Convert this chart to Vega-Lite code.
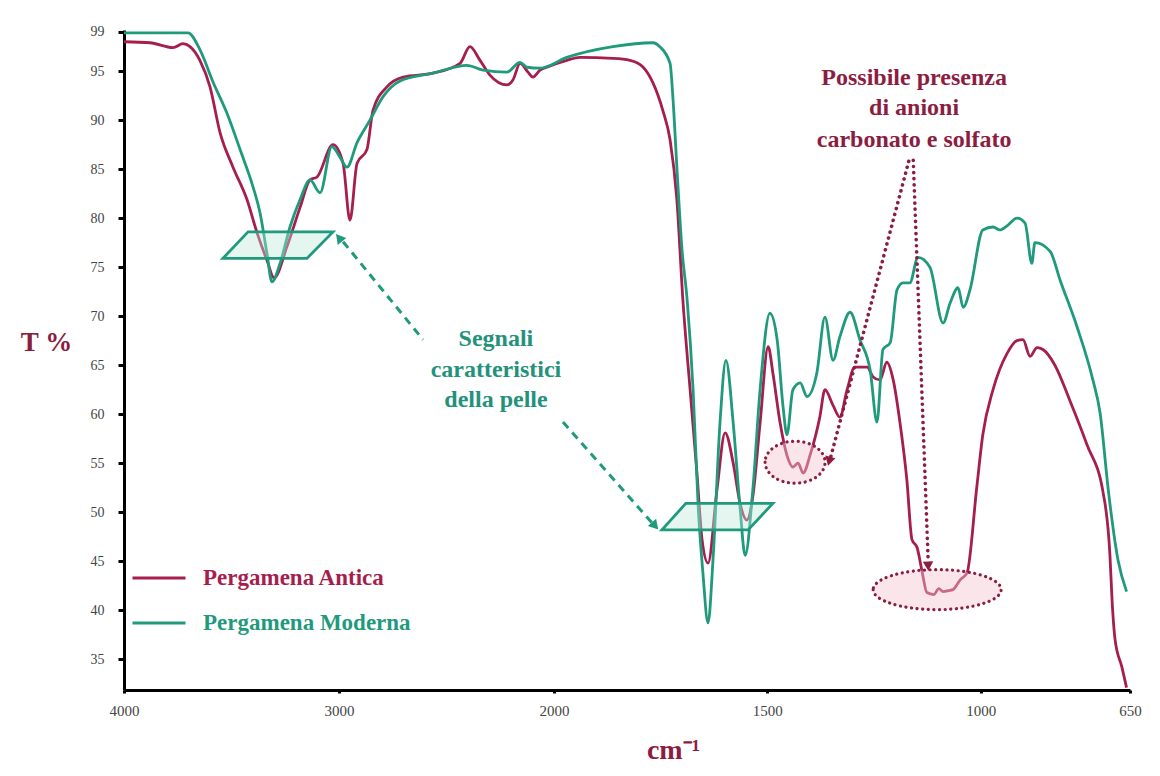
{
  "$schema": "https://vega.github.io/schema/vega-lite/v6.json",
  "width": 1006,
  "height": 660,
  "autosize": {"type": "none"},
  "padding": {"left": 124, "top": 30, "right": 30, "bottom": 86},
  "background": "white",
  "config": {"view": {"stroke": null}, "font": "Liberation Serif"},
  "datasets": {
    "spectra": [
      {"s": "Pergamena Antica", "wn": 4000, "T": 98.0},
      {"s": "Pergamena Antica", "wn": 3879, "T": 97.9},
      {"s": "Pergamena Antica", "wn": 3772, "T": 97.4},
      {"s": "Pergamena Antica", "wn": 3726, "T": 97.8},
      {"s": "Pergamena Antica", "wn": 3693, "T": 97.5},
      {"s": "Pergamena Antica", "wn": 3647, "T": 96.1},
      {"s": "Pergamena Antica", "wn": 3600, "T": 93.4},
      {"s": "Pergamena Antica", "wn": 3553, "T": 88.7},
      {"s": "Pergamena Antica", "wn": 3493, "T": 85.2},
      {"s": "Pergamena Antica", "wn": 3428, "T": 81.9},
      {"s": "Pergamena Antica", "wn": 3381, "T": 78.5},
      {"s": "Pergamena Antica", "wn": 3335, "T": 75.7},
      {"s": "Pergamena Antica", "wn": 3302, "T": 73.9},
      {"s": "Pergamena Antica", "wn": 3242, "T": 77.1},
      {"s": "Pergamena Antica", "wn": 3181, "T": 81.1},
      {"s": "Pergamena Antica", "wn": 3135, "T": 83.9},
      {"s": "Pergamena Antica", "wn": 3102, "T": 84.2},
      {"s": "Pergamena Antica", "wn": 3028, "T": 87.5},
      {"s": "Pergamena Antica", "wn": 2981, "T": 85.6},
      {"s": "Pergamena Antica", "wn": 2949, "T": 79.8},
      {"s": "Pergamena Antica", "wn": 2916, "T": 85.6},
      {"s": "Pergamena Antica", "wn": 2870, "T": 87.0},
      {"s": "Pergamena Antica", "wn": 2842, "T": 91.0},
      {"s": "Pergamena Antica", "wn": 2777, "T": 93.4},
      {"s": "Pergamena Antica", "wn": 2702, "T": 94.4},
      {"s": "Pergamena Antica", "wn": 2563, "T": 94.8},
      {"s": "Pergamena Antica", "wn": 2437, "T": 95.8},
      {"s": "Pergamena Antica", "wn": 2391, "T": 97.5},
      {"s": "Pergamena Antica", "wn": 2344, "T": 96.1},
      {"s": "Pergamena Antica", "wn": 2298, "T": 94.6},
      {"s": "Pergamena Antica", "wn": 2219, "T": 93.6},
      {"s": "Pergamena Antica", "wn": 2191, "T": 94.1},
      {"s": "Pergamena Antica", "wn": 2158, "T": 95.8},
      {"s": "Pergamena Antica", "wn": 2121, "T": 94.9},
      {"s": "Pergamena Antica", "wn": 2098, "T": 94.4},
      {"s": "Pergamena Antica", "wn": 2065, "T": 95.1},
      {"s": "Pergamena Antica", "wn": 2033, "T": 95.4},
      {"s": "Pergamena Antica", "wn": 1970, "T": 96.1},
      {"s": "Pergamena Antica", "wn": 1939, "T": 96.4},
      {"s": "Pergamena Antica", "wn": 1862, "T": 96.3},
      {"s": "Pergamena Antica", "wn": 1822, "T": 96.1},
      {"s": "Pergamena Antica", "wn": 1791, "T": 95.4},
      {"s": "Pergamena Antica", "wn": 1768, "T": 93.8},
      {"s": "Pergamena Antica", "wn": 1745, "T": 91.0},
      {"s": "Pergamena Antica", "wn": 1728, "T": 88.0},
      {"s": "Pergamena Antica", "wn": 1712, "T": 81.9},
      {"s": "Pergamena Antica", "wn": 1698, "T": 71.7},
      {"s": "Pergamena Antica", "wn": 1681, "T": 62.5},
      {"s": "Pergamena Antica", "wn": 1665, "T": 54.0},
      {"s": "Pergamena Antica", "wn": 1653, "T": 47.2},
      {"s": "Pergamena Antica", "wn": 1639, "T": 44.8},
      {"s": "Pergamena Antica", "wn": 1618, "T": 52.3},
      {"s": "Pergamena Antica", "wn": 1599, "T": 58.1},
      {"s": "Pergamena Antica", "wn": 1580, "T": 55.0},
      {"s": "Pergamena Antica", "wn": 1564, "T": 50.9},
      {"s": "Pergamena Antica", "wn": 1548, "T": 49.2},
      {"s": "Pergamena Antica", "wn": 1534, "T": 51.6},
      {"s": "Pergamena Antica", "wn": 1517, "T": 59.1},
      {"s": "Pergamena Antica", "wn": 1498, "T": 66.9},
      {"s": "Pergamena Antica", "wn": 1487, "T": 64.2},
      {"s": "Pergamena Antica", "wn": 1470, "T": 59.1},
      {"s": "Pergamena Antica", "wn": 1454, "T": 55.8},
      {"s": "Pergamena Antica", "wn": 1440, "T": 54.6},
      {"s": "Pergamena Antica", "wn": 1428, "T": 55.0},
      {"s": "Pergamena Antica", "wn": 1416, "T": 54.0},
      {"s": "Pergamena Antica", "wn": 1400, "T": 55.8},
      {"s": "Pergamena Antica", "wn": 1377, "T": 59.7},
      {"s": "Pergamena Antica", "wn": 1365, "T": 62.5},
      {"s": "Pergamena Antica", "wn": 1346, "T": 60.9},
      {"s": "Pergamena Antica", "wn": 1330, "T": 59.7},
      {"s": "Pergamena Antica", "wn": 1313, "T": 62.5},
      {"s": "Pergamena Antica", "wn": 1295, "T": 64.8},
      {"s": "Pergamena Antica", "wn": 1266, "T": 64.8},
      {"s": "Pergamena Antica", "wn": 1252, "T": 63.8},
      {"s": "Pergamena Antica", "wn": 1236, "T": 63.5},
      {"s": "Pergamena Antica", "wn": 1220, "T": 65.3},
      {"s": "Pergamena Antica", "wn": 1205, "T": 63.5},
      {"s": "Pergamena Antica", "wn": 1189, "T": 59.1},
      {"s": "Pergamena Antica", "wn": 1173, "T": 53.3},
      {"s": "Pergamena Antica", "wn": 1161, "T": 47.2},
      {"s": "Pergamena Antica", "wn": 1149, "T": 46.4},
      {"s": "Pergamena Antica", "wn": 1138, "T": 44.1},
      {"s": "Pergamena Antica", "wn": 1126, "T": 41.8},
      {"s": "Pergamena Antica", "wn": 1110, "T": 41.6},
      {"s": "Pergamena Antica", "wn": 1098, "T": 42.2},
      {"s": "Pergamena Antica", "wn": 1088, "T": 41.9},
      {"s": "Pergamena Antica", "wn": 1075, "T": 42.0},
      {"s": "Pergamena Antica", "wn": 1065, "T": 42.1},
      {"s": "Pergamena Antica", "wn": 1048, "T": 43.1},
      {"s": "Pergamena Antica", "wn": 1032, "T": 43.8},
      {"s": "Pergamena Antica", "wn": 1009, "T": 52.6},
      {"s": "Pergamena Antica", "wn": 995, "T": 57.9},
      {"s": "Pergamena Antica", "wn": 971, "T": 62.5},
      {"s": "Pergamena Antica", "wn": 938, "T": 66.2},
      {"s": "Pergamena Antica", "wn": 915, "T": 67.5},
      {"s": "Pergamena Antica", "wn": 901, "T": 67.6},
      {"s": "Pergamena Antica", "wn": 884, "T": 65.9},
      {"s": "Pergamena Antica", "wn": 868, "T": 66.8},
      {"s": "Pergamena Antica", "wn": 854, "T": 66.6},
      {"s": "Pergamena Antica", "wn": 826, "T": 65.0},
      {"s": "Pergamena Antica", "wn": 791, "T": 61.4},
      {"s": "Pergamena Antica", "wn": 751, "T": 56.9},
      {"s": "Pergamena Antica", "wn": 713, "T": 52.0},
      {"s": "Pergamena Antica", "wn": 697, "T": 45.6},
      {"s": "Pergamena Antica", "wn": 692, "T": 41.0},
      {"s": "Pergamena Antica", "wn": 685, "T": 37.0},
      {"s": "Pergamena Antica", "wn": 669, "T": 34.2},
      {"s": "Pergamena Antica", "wn": 658, "T": 32.1},
      {"s": "Pergamena Moderna", "wn": 4000, "T": 98.9},
      {"s": "Pergamena Moderna", "wn": 3702, "T": 98.9},
      {"s": "Pergamena Moderna", "wn": 3647, "T": 97.2},
      {"s": "Pergamena Moderna", "wn": 3586, "T": 93.9},
      {"s": "Pergamena Moderna", "wn": 3521, "T": 90.7},
      {"s": "Pergamena Moderna", "wn": 3460, "T": 87.0},
      {"s": "Pergamena Moderna", "wn": 3400, "T": 83.2},
      {"s": "Pergamena Moderna", "wn": 3367, "T": 80.5},
      {"s": "Pergamena Moderna", "wn": 3335, "T": 76.4},
      {"s": "Pergamena Moderna", "wn": 3312, "T": 73.5},
      {"s": "Pergamena Moderna", "wn": 3274, "T": 75.4},
      {"s": "Pergamena Moderna", "wn": 3228, "T": 79.1},
      {"s": "Pergamena Moderna", "wn": 3181, "T": 81.9},
      {"s": "Pergamena Moderna", "wn": 3135, "T": 83.9},
      {"s": "Pergamena Moderna", "wn": 3088, "T": 82.6},
      {"s": "Pergamena Moderna", "wn": 3033, "T": 87.3},
      {"s": "Pergamena Moderna", "wn": 2995, "T": 86.2},
      {"s": "Pergamena Moderna", "wn": 2963, "T": 85.2},
      {"s": "Pergamena Moderna", "wn": 2916, "T": 87.7},
      {"s": "Pergamena Moderna", "wn": 2856, "T": 90.0},
      {"s": "Pergamena Moderna", "wn": 2795, "T": 92.4},
      {"s": "Pergamena Moderna", "wn": 2716, "T": 94.0},
      {"s": "Pergamena Moderna", "wn": 2563, "T": 94.8},
      {"s": "Pergamena Moderna", "wn": 2405, "T": 95.6},
      {"s": "Pergamena Moderna", "wn": 2330, "T": 95.1},
      {"s": "Pergamena Moderna", "wn": 2219, "T": 94.9},
      {"s": "Pergamena Moderna", "wn": 2158, "T": 95.9},
      {"s": "Pergamena Moderna", "wn": 2126, "T": 95.4},
      {"s": "Pergamena Moderna", "wn": 2065, "T": 95.3},
      {"s": "Pergamena Moderna", "wn": 1970, "T": 96.4},
      {"s": "Pergamena Moderna", "wn": 1862, "T": 97.5},
      {"s": "Pergamena Moderna", "wn": 1768, "T": 97.9},
      {"s": "Pergamena Moderna", "wn": 1752, "T": 97.5},
      {"s": "Pergamena Moderna", "wn": 1728, "T": 95.8},
      {"s": "Pergamena Moderna", "wn": 1721, "T": 92.1},
      {"s": "Pergamena Moderna", "wn": 1712, "T": 85.2},
      {"s": "Pergamena Moderna", "wn": 1700, "T": 76.8},
      {"s": "Pergamena Moderna", "wn": 1688, "T": 71.7},
      {"s": "Pergamena Moderna", "wn": 1674, "T": 62.5},
      {"s": "Pergamena Moderna", "wn": 1662, "T": 50.5},
      {"s": "Pergamena Moderna", "wn": 1651, "T": 43.8},
      {"s": "Pergamena Moderna", "wn": 1639, "T": 38.7},
      {"s": "Pergamena Moderna", "wn": 1627, "T": 45.4},
      {"s": "Pergamena Moderna", "wn": 1611, "T": 59.1},
      {"s": "Pergamena Moderna", "wn": 1597, "T": 65.5},
      {"s": "Pergamena Moderna", "wn": 1580, "T": 59.1},
      {"s": "Pergamena Moderna", "wn": 1564, "T": 50.5},
      {"s": "Pergamena Moderna", "wn": 1552, "T": 45.6},
      {"s": "Pergamena Moderna", "wn": 1534, "T": 52.3},
      {"s": "Pergamena Moderna", "wn": 1517, "T": 62.5},
      {"s": "Pergamena Moderna", "wn": 1494, "T": 70.3},
      {"s": "Pergamena Moderna", "wn": 1477, "T": 67.6},
      {"s": "Pergamena Moderna", "wn": 1463, "T": 60.7},
      {"s": "Pergamena Moderna", "wn": 1454, "T": 57.9},
      {"s": "Pergamena Moderna", "wn": 1440, "T": 62.5},
      {"s": "Pergamena Moderna", "wn": 1423, "T": 63.2},
      {"s": "Pergamena Moderna", "wn": 1407, "T": 61.8},
      {"s": "Pergamena Moderna", "wn": 1384, "T": 64.2},
      {"s": "Pergamena Moderna", "wn": 1365, "T": 69.9},
      {"s": "Pergamena Moderna", "wn": 1346, "T": 65.5},
      {"s": "Pergamena Moderna", "wn": 1330, "T": 67.9},
      {"s": "Pergamena Moderna", "wn": 1306, "T": 70.4},
      {"s": "Pergamena Moderna", "wn": 1283, "T": 67.6},
      {"s": "Pergamena Moderna", "wn": 1259, "T": 64.5},
      {"s": "Pergamena Moderna", "wn": 1243, "T": 59.2},
      {"s": "Pergamena Moderna", "wn": 1229, "T": 66.6},
      {"s": "Pergamena Moderna", "wn": 1212, "T": 67.3},
      {"s": "Pergamena Moderna", "wn": 1196, "T": 72.7},
      {"s": "Pergamena Moderna", "wn": 1182, "T": 73.4},
      {"s": "Pergamena Moderna", "wn": 1166, "T": 73.4},
      {"s": "Pergamena Moderna", "wn": 1147, "T": 76.0},
      {"s": "Pergamena Moderna", "wn": 1119, "T": 75.0},
      {"s": "Pergamena Moderna", "wn": 1088, "T": 69.3},
      {"s": "Pergamena Moderna", "wn": 1072, "T": 71.3},
      {"s": "Pergamena Moderna", "wn": 1053, "T": 72.9},
      {"s": "Pergamena Moderna", "wn": 1041, "T": 70.9},
      {"s": "Pergamena Moderna", "wn": 1025, "T": 72.7},
      {"s": "Pergamena Moderna", "wn": 995, "T": 78.8},
      {"s": "Pergamena Moderna", "wn": 971, "T": 79.1},
      {"s": "Pergamena Moderna", "wn": 955, "T": 78.8},
      {"s": "Pergamena Moderna", "wn": 936, "T": 79.3},
      {"s": "Pergamena Moderna", "wn": 915, "T": 80.0},
      {"s": "Pergamena Moderna", "wn": 896, "T": 79.5},
      {"s": "Pergamena Moderna", "wn": 880, "T": 75.4},
      {"s": "Pergamena Moderna", "wn": 873, "T": 77.5},
      {"s": "Pergamena Moderna", "wn": 837, "T": 76.6},
      {"s": "Pergamena Moderna", "wn": 814, "T": 73.7},
      {"s": "Pergamena Moderna", "wn": 774, "T": 68.9},
      {"s": "Pergamena Moderna", "wn": 737, "T": 63.5},
      {"s": "Pergamena Moderna", "wn": 720, "T": 60.1},
      {"s": "Pergamena Moderna", "wn": 701, "T": 52.3},
      {"s": "Pergamena Moderna", "wn": 678, "T": 45.1},
      {"s": "Pergamena Moderna", "wn": 658, "T": 41.9}
    ],
    "shapes": [
      {"id": "p1", "T": 75.9, "wn": 3540, "wn2": 3149},
      {"id": "p1", "T": 78.6, "wn": 3423, "wn2": 3028},
      {"id": "p2", "T": 48.2, "wn": 1747, "wn2": 1545},
      {"id": "p2", "T": 50.9, "wn": 1691, "wn2": 1487}
    ],
    "ellipses": [
      {"id": "small", "wn": 1435, "T": 55.1},
      {"id": "big", "wn": 1102, "T": 42.1}
    ],
    "arrows": [
      {"id": "A", "wn": 2609, "T": 67.6},
      {"id": "A", "wn": 2981, "T": 77.6},
      {"id": "B", "wn": 1979, "T": 59.2},
      {"id": "B", "wn": 1770, "T": 48.9},
      {"id": "C", "wn": 1168, "T": 85.9},
      {"id": "C", "wn": 1351, "T": 55.7},
      {"id": "D", "wn": 1158, "T": 85.9},
      {"id": "D", "wn": 1123, "T": 45.0}
    ],
    "heads": [
      {"id": "A", "wn": 3000, "T": 78.0},
      {"id": "B", "wn": 1763, "T": 48.6},
      {"id": "C", "wn": 1355, "T": 55.2},
      {"id": "D", "wn": 1123, "T": 44.5}
    ],
    "labels": [
      {"g": "red", "t": "Possibile presenza", "wn": 1156, "T": 94.3},
      {"g": "red", "t": "di anioni", "wn": 1156, "T": 91.2},
      {"g": "red", "t": "carbonato e solfato", "wn": 1156, "T": 88.0},
      {"g": "teal", "t": "Segnali", "wn": 2270, "T": 67.7},
      {"g": "teal", "t": "caratteristici", "wn": 2270, "T": 64.5},
      {"g": "teal", "t": "della pelle", "wn": 2270, "T": 61.4}
    ]
  },
  "encoding": {
    "x": {
      "field": "wn",
      "type": "quantitative",
      "scale": {"domain": [4000, 2000, 650], "range": [0, 430, 1006], "nice": false, "zero": false},
      "axis": {
        "values": [4000, 3000, 2000, 1500, 1000, 650],
        "format": "d",
        "grid": false,
        "domainColor": "black",
        "domainWidth": 3,
        "tickColor": "black",
        "tickWidth": 3,
        "tickSize": 3,
        "labelFont": "Liberation Serif",
        "labelFontSize": 15,
        "labelColor": "#444444",
        "labelPadding": 10,
        "labelFlush": false,
        "labelOverlap": false,
        "title": "cm⁻¹",
        "titleFont": "Liberation Serif",
        "titleFontSize": 28,
        "titleFontWeight": "bold",
        "titleColor": "#8c1d40",
        "titleX": 549,
        "titleY": 68,
        "titleAlign": "center",
        "titleBaseline": "alphabetic"
      }
    },
    "y": {
      "field": "T",
      "type": "quantitative",
      "scale": {"domain": [31.86, 99.2], "nice": false, "zero": false},
      "axis": {
        "values": [35, 40, 45, 50, 55, 60, 65, 70, 75, 80, 85, 90, 95, 99],
        "grid": false,
        "domainColor": "black",
        "domainWidth": 3,
        "tickColor": "black",
        "tickWidth": 3,
        "tickSize": 6,
        "labelFont": "Liberation Serif",
        "labelFontSize": 14,
        "labelColor": "#444444",
        "labelPadding": 14,
        "title": "T %",
        "titleFont": "Liberation Serif",
        "titleFontSize": 27,
        "titleFontWeight": "bold",
        "titleColor": "#8c1d40",
        "titleAngle": 0,
        "titleX": -78,
        "titleY": 312,
        "titleAlign": "center",
        "titleBaseline": "middle"
      }
    }
  },
  "layer": [
    {
      "data": {"name": "spectra"},
      "mark": {"type": "line", "strokeWidth": 2.8, "interpolate": "monotone"},
      "encoding": {
        "color": {
          "field": "s",
          "type": "nominal",
          "scale": {"domain": ["Pergamena Antica", "Pergamena Moderna"], "range": ["#a61e4d", "#1f9a7c"]},
          "legend": {
            "orient": "none",
            "legendX": 7,
            "legendY": 520,
            "title": null,
            "padding": 0,
            "symbolType": "stroke",
            "symbolSize": 2809,
            "symbolStrokeWidth": 3,
            "labelFont": "Liberation Serif",
            "labelFontSize": 23,
            "labelFontWeight": "bold",
            "labelOffset": 16,
            "rowPadding": 5,
            "labelLimit": 400,
            "encode": {"labels": {"update": {"fill": {"signal": "scale('color', datum.value)"}}}}
          }
        }
      }
    },
    {
      "data": {"name": "shapes"},
      "mark": {"type": "area", "orient": "horizontal", "fill": "#bfe8dd", "fillOpacity": 0.4, "stroke": "#1f9a7c", "strokeWidth": 2.8},
      "encoding": {
        "x2": {"field": "wn2"},
        "detail": {"field": "id"}
      }
    },
    {
      "data": {"name": "ellipses"},
      "transform": [{"filter": "datum.id == 'small'"}],
      "mark": {"type": "point", "shape": "M-1,0A1,0.7,0,1,0,1,0A1,0.7,0,1,0,-1,0Z", "size": 3600, "filled": true, "fill": "#f4c6d2", "fillOpacity": 0.45, "stroke": "#8c1d40", "strokeWidth": 3.2, "strokeDash": [0.1, 5.5], "strokeCap": "round", "opacity": 1}
    },
    {
      "data": {"name": "ellipses"},
      "transform": [{"filter": "datum.id == 'big'"}],
      "mark": {"type": "point", "shape": "M-1,0A1,0.3125,0,1,0,1,0A1,0.3125,0,1,0,-1,0Z", "size": 16384, "filled": true, "fill": "#f4c6d2", "fillOpacity": 0.45, "stroke": "#8c1d40", "strokeWidth": 3.2, "strokeDash": [0.1, 5.5], "strokeCap": "round", "opacity": 1}
    },
    {
      "data": {"name": "arrows"},
      "transform": [{"filter": "datum.id == 'A' || datum.id == 'B'"}],
      "mark": {"type": "line", "color": "#1f9a7c", "strokeWidth": 3, "strokeDash": [8, 6]},
      "encoding": {"detail": {"field": "id"}}
    },
    {
      "data": {"name": "arrows"},
      "transform": [{"filter": "datum.id == 'C' || datum.id == 'D'"}],
      "mark": {"type": "line", "color": "#8c1d40", "strokeWidth": 3.6, "strokeDash": [0.1, 6], "strokeCap": "round"},
      "encoding": {"detail": {"field": "id"}}
    },
    {
      "data": {"name": "heads"},
      "transform": [{"filter": "datum.id == 'A'"}],
      "mark": {"type": "point", "shape": "triangle-up", "size": 120, "angle": -39.5, "filled": true, "color": "#1f9a7c", "opacity": 1}
    },
    {
      "data": {"name": "heads"},
      "transform": [{"filter": "datum.id == 'B'"}],
      "mark": {"type": "point", "shape": "triangle-up", "size": 120, "angle": 138.7, "filled": true, "color": "#1f9a7c", "opacity": 1}
    },
    {
      "data": {"name": "heads"},
      "transform": [{"filter": "datum.id == 'C'"}],
      "mark": {"type": "point", "shape": "triangle-up", "size": 110, "angle": 195, "filled": true, "color": "#8c1d40", "opacity": 1}
    },
    {
      "data": {"name": "heads"},
      "transform": [{"filter": "datum.id == 'D'"}],
      "mark": {"type": "point", "shape": "triangle-up", "size": 110, "angle": 177.7, "filled": true, "color": "#8c1d40", "opacity": 1}
    },
    {
      "data": {"name": "labels"},
      "transform": [{"filter": "datum.g == 'red'"}],
      "mark": {"type": "text", "font": "Liberation Serif", "fontSize": 24, "fontWeight": "bold", "color": "#8c1d40", "align": "center", "baseline": "middle"},
      "encoding": {"text": {"field": "t"}}
    },
    {
      "data": {"name": "labels"},
      "transform": [{"filter": "datum.g == 'teal'"}],
      "mark": {"type": "text", "font": "Liberation Serif", "fontSize": 24, "fontWeight": "bold", "color": "#23927a", "align": "center", "baseline": "middle"},
      "encoding": {"text": {"field": "t"}}
    }
  ]
}
